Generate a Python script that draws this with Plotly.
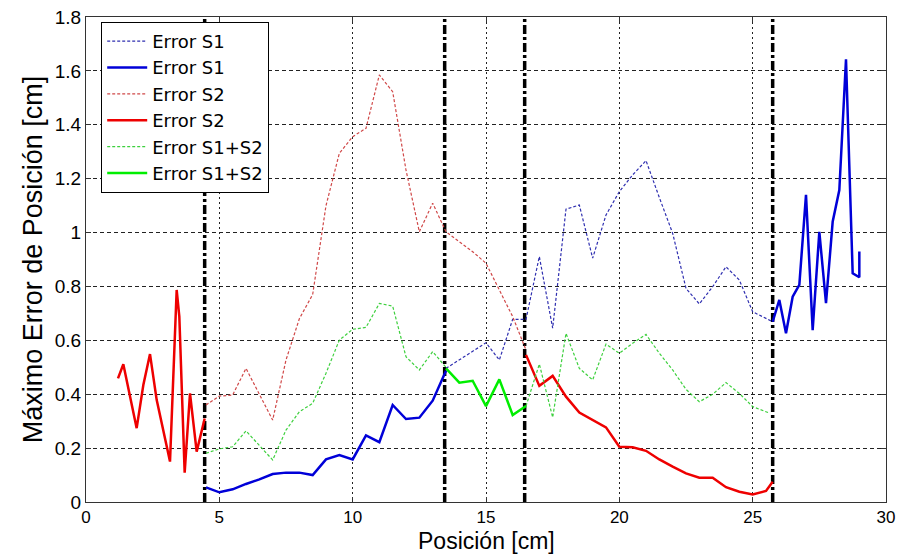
import plotly.graph_objects as go

# ---- data ----
s1_dash_x = [13.5, 14, 14.5, 15, 15.5, 16, 16.5, 17, 17.5, 18, 18.5, 19, 19.5, 20, 20.5, 21, 21.5, 22, 22.5, 23, 23.5, 24, 24.5, 25, 25.75]
s1_dash_y = [0.496, 0.527, 0.558, 0.591, 0.527, 0.678, 0.678, 0.911, 0.645, 1.087, 1.102, 0.905, 1.065, 1.152, 1.214, 1.267, 1.13, 0.997, 0.793, 0.735, 0.799, 0.873, 0.824, 0.706, 0.669]

s1_solid_x = [4.5, 5, 5.5, 6, 6.5, 7, 7.5, 8, 8.5, 9, 9.5, 10, 10.5, 11, 11.5, 12, 12.5, 13, 13.5, None,
              25.75, 26.0, 26.25, 26.5, 26.75, 27.0, 27.25, 27.5, 27.75, 28.0, 28.25, 28.5, 28.75, 29.0, 29.0]
s1_solid_y = [0.054, 0.036, 0.047, 0.067, 0.084, 0.104, 0.109, 0.109, 0.100, 0.158, 0.174, 0.158, 0.247, 0.222, 0.360, 0.308, 0.313, 0.376, 0.487, None,
              0.669, 0.75, 0.626, 0.762, 0.806, 1.14, 0.638, 1.003, 0.738, 1.04, 1.158, 1.643, 0.849, 0.834, 0.93]

s2_dash_x = [4.5, 5, 5.5, 6, 6.5, 7, 7.5, 8, 8.5, 9, 9.5, 10, 10.5, 11, 11.5, 12, 12.5, 13, 13.5, 14, 14.5, 15, 15.5, 16, 16.5]
s2_dash_y = [0.36, 0.393, 0.397, 0.496, 0.40, 0.304, 0.527, 0.68, 0.77, 1.10, 1.294, 1.356, 1.387, 1.585, 1.523, 1.232, 1.003, 1.109, 1.003, 0.965, 0.929, 0.886, 0.787, 0.688, 0.564]

s2_solid_x = [1.2, 1.4, 1.9, 2.15, 2.4, 2.65, 3.15, 3.4, 3.5, 3.7, 3.9, 4.15, 4.45, None,
              16.5, 17, 17.5, 18, 18.5, 19, 19.5, 20, 20.5, 21, 21.5, 22, 22.5, 23, 23.5, 24, 24.5, 25, 25.5, 25.75]
s2_solid_y = [0.459, 0.511, 0.274, 0.434, 0.549, 0.379, 0.150, 0.787, 0.688, 0.109, 0.403, 0.187, 0.31, None,
              0.546, 0.431, 0.468, 0.391, 0.332, 0.304, 0.277, 0.205, 0.203, 0.190, 0.158, 0.131, 0.106, 0.090, 0.090, 0.055, 0.038, 0.028, 0.041, 0.075]

s12_dash_x = [4.5, 5, 5.5, 6, 6.5, 7, 7.5, 8, 8.5, 9, 9.5, 10, 10.5, 11, 11.5, 12, 12.5, 13, 13.5, None,
              16.5, 17, 17.5, 18, 18.5, 19, 19.5, 20, 20.5, 21, 21.5, 22, 22.5, 23, 23.5, 24, 24.5, 25, 25.6]
s12_dash_y = [0.181, 0.197, 0.205, 0.264, 0.21, 0.156, 0.267, 0.335, 0.366, 0.478, 0.601, 0.641, 0.648, 0.737, 0.727, 0.539, 0.49, 0.558, 0.5, None,
              0.356, 0.512, 0.314, 0.626, 0.496, 0.453, 0.586, 0.552, 0.589, 0.622, 0.552, 0.49, 0.418, 0.372, 0.40, 0.443, 0.403, 0.354, 0.331]

s12_solid_x = [13.5, 14, 14.5, 15, 15.5, 16, 16.5]
s12_solid_y = [0.496, 0.443, 0.450, 0.356, 0.455, 0.323, 0.356]

boundaries = [4.45, 13.45, 16.45, 25.75]

x_ticks = [0, 5, 10, 15, 20, 25, 30]
y_ticks = [0, 0.2, 0.4, 0.6, 0.8, 1.0, 1.2, 1.4, 1.6, 1.8]
y_tick_labels = ["0", "0.2", "0.4", "0.6", "0.8", "1", "1.2", "1.4", "1.6", "1.8"]
x_title = "Posición [cm]"
y_title = "Máximo Error de Posición [cm]"

FONT = "Liberation Sans, Arial, sans-serif"

fig = go.Figure()

# boundary dash-dot lines
for b in boundaries:
    fig.add_trace(go.Scatter(x=[b, b], y=[0, 1.8], mode="lines", showlegend=False,
                             line=dict(color="black", width=3.5, dash="9px,3px,3px,3px"),
                             hoverinfo="skip"))

series = [
    ("Error S1", s1_dash_x, s1_dash_y, "#2f2fb0", 1.2, "3px,2px"),
    ("Error S1", s1_solid_x, s1_solid_y, "#0000d8", 2.5, "solid"),
    ("Error S2", s2_dash_x, s2_dash_y, "#d04848", 1.2, "3px,2px"),
    ("Error S2", s2_solid_x, s2_solid_y, "#ee0000", 2.5, "solid"),
    ("Error S1+S2", s12_dash_x, s12_dash_y, "#3ed03e", 1.2, "3px,2px"),
    ("Error S1+S2", s12_solid_x, s12_solid_y, "#00ee00", 2.5, "solid"),
]
for name, xs, ys, col, w, d in series:
    fig.add_trace(go.Scatter(x=xs, y=ys, mode="lines", name=name,
                             line=dict(color=col, width=w, dash=d),
                             connectgaps=False))

fig.update_layout(
    width=903, height=556,
    margin=dict(l=86, r=17, t=17, b=54, autoexpand=False),
    paper_bgcolor="white", plot_bgcolor="white",
    font=dict(family=FONT, color="black", size=19),
    legend=dict(x=0.019, y=0.99, xanchor="left", yanchor="top",
                bgcolor="white", bordercolor="black", borderwidth=1,
                font=dict(size=18, family="DejaVu Sans, sans-serif"), tracegroupgap=0,
                itemwidth=40),
    showlegend=True,
    annotations=[dict(text=x_title, xref="paper", yref="paper", x=0.5, y=-0.081,
                      xanchor="center", yanchor="middle", showarrow=False,
                      font=dict(size=23, family=FONT, color="black"))],
)
fig.update_xaxes(range=[0, 30], tickvals=x_ticks, ticktext=[str(v) for v in x_ticks],
                 showgrid=True, gridcolor="#222222", gridwidth=1, griddash="2px,3px",
                 showline=True, linecolor="#333333", linewidth=1, mirror="ticks",
                 ticks="inside", ticklen=5, tickcolor="#333333", automargin=False,
                 zeroline=False, tickfont=dict(size=17))
fig.update_yaxes(range=[0, 1.8], tickvals=y_ticks, ticktext=y_tick_labels,
                 showgrid=True, gridcolor="#222222", gridwidth=1, griddash="4px,3px",
                 showline=True, linecolor="#333333", linewidth=1, mirror="ticks",
                 ticks="inside", ticklen=5, tickcolor="#333333", automargin=False,
                 zeroline=False, tickfont=dict(size=19),
                 title=dict(text=y_title, font=dict(size=27), standoff=4))

fig.write_html("out.html")
